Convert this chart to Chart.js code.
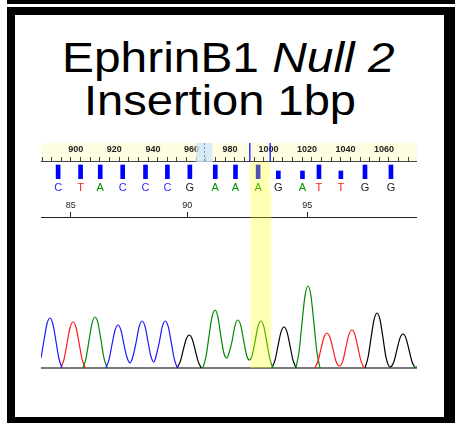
<!DOCTYPE html>
<html><head><meta charset="utf-8">
<script src="https://cdn.jsdelivr.net/npm/chart.js@4.4.1/dist/chart.umd.min.js"></script>
<style>
html,body{margin:0;padding:0;background:#fff;}
body{width:455px;height:423px;position:relative;overflow:hidden;font-family:"Liberation Sans",Arial,sans-serif;}
#topband{position:absolute;left:7px;top:0;width:448px;height:4px;background:#000;}
#frame{position:absolute;left:7px;top:7px;width:448px;height:416px;box-sizing:border-box;border-left:8px solid #000;border-top:8px solid #000;border-right:11px solid #000;border-bottom:6px solid #000;}
.t{position:absolute;font-size:42px;line-height:42px;white-space:nowrap;transform:scaleX(1.12);transform-origin:0 0;color:#000;}
canvas{position:absolute;}
</style></head><body>
<div id="topband"></div><div id="frame"></div>
<div class="t" style="left:62px;top:37px;transform:scaleX(1.14)">EphrinB1 <i>Null 2</i></div>
<div class="t" style="left:84px;top:80px">Insertion 1bp</div>
<canvas id="c1" width="376" height="52" style="left:41px;top:143px"></canvas>
<canvas id="c2" width="376" height="177" style="left:41px;top:195px"></canvas>
<script>
// ---- data ----
const scanMin = 884.5, scanMax = 1074.5;
const rulerLabels = [900, 920, 940, 960, 980, 1000, 1020, 1040, 1060];
const baseLetters = ['C','T','A','C','C','C','G','A','A','A','G','A','T','T','G','G'];
const basePositions = [887.4, 899.5, 910.1, 922.2, 934.5, 946.3, 958.4, 972.1, 983.0, 995.2, 1006.1, 1019.1, 1028.0, 1039.8, 1052.8, 1066.8];
const baseQuality = [35,35,35,35,35,35,35,35,35,35,20,20,35,20,35,35];
const firstBaseNumber = 84;
const baseNumberTicks = [85, 90, 95];
const selectionRange = [990.3, 1000.9];
const cursorBox = [962.3, 970.9];
const cursorScan = 966.4;

const traceC = [
  [[884.5,100],[886.0,275],[887.5,440],[889.0,500],[890.5,440],[892.0,275],[893.5,100],[895.1,0]],
  [[917.3,0],[918.9,86],[920.4,237],[921.9,378],[923.4,430],[924.9,378],[926.4,237],[927.9,110],[929.5,50],[931.0,120],[932.6,260],[934.1,414],[935.6,470],[937.1,414],[938.6,260],[940.0,120],[941.5,60],[942.8,130],[944.3,260],[945.8,414],[947.3,470],[948.8,414],[950.3,259],[951.8,94],[953.4,0]]
];
const traceT = [
  [[894.6,0],[896.2,92],[897.7,253],[899.2,405],[900.7,460],[902.2,405],[903.7,253],[905.2,92],[906.8,0]],
  [[1022.9,0],[1024.5,70],[1026.0,193],[1027.5,308],[1029.0,350],[1030.5,308],[1032.0,193],[1033.5,70],[1035.3,20],[1037.1,76],[1038.6,209],[1040.1,334],[1041.6,380],[1043.1,334],[1044.6,209],[1046.1,76],[1047.7,0]]
];
const traceA = [
  [[905.7,0],[907.3,102],[908.8,281],[910.3,449],[911.8,510],[913.3,449],[914.8,281],[916.3,102],[917.9,0]],
  [[966.3,0],[967.9,116],[969.4,319],[970.9,510],[972.4,580],[973.9,510],[975.4,319],[976.9,150],[978.3,100],[979.5,150],[981.0,264],[982.5,422],[984.0,480],[985.5,422],[987.0,264],[988.5,120],[989.8,80],[991.1,120],[992.6,259],[994.1,414],[995.6,470],[997.1,414],[998.6,259],[1000.1,94],[1001.7,0]],
  [[1013.3,0],[1014.9,164],[1016.4,451],[1017.9,722],[1019.4,820],[1020.9,722],[1022.4,451],[1023.9,164],[1025.5,0]],
  [[1073.0,0],[1074.5,15]]
];
const traceG = [
  [[953.3,0],[954.9,66],[956.4,182],[957.9,290],[959.4,330],[960.9,290],[962.4,182],[963.9,66],[965.5,0]],
  [[1001.2,0],[1002.8,82],[1004.3,226],[1005.8,361],[1007.3,410],[1008.8,361],[1010.3,226],[1011.8,82],[1013.4,0]],
  [[1048.2,0],[1049.8,110],[1051.3,303],[1052.8,484],[1054.3,550],[1055.8,484],[1057.3,303],[1058.8,110],[1060.9,10],[1062.9,68],[1064.4,187],[1065.9,299],[1067.4,340],[1068.9,299],[1070.4,187],[1071.9,68],[1073.5,0]]
];

// ---- styles ----
const letterColors = {A:'#009000', C:'#2a2aff', G:'#222222', T:'#ff2020'};
const bandColor = 'rgba(255,255,15,0.31)';
const FONT = '"Liberation Sans", Arial, sans-serif';

function segs(list){
  const out = [];
  list.forEach((s, i) => {
    if (i > 0) out.push({x: s[0][0] - 0.01, y: null});
    s.forEach(p => out.push({x: p[0], y: p[1]}));
  });
  return out;
}

const topPlugin = {
  id: 'topdeco',
  beforeDraw(chart){
    const c = chart.ctx, r = chart.scales.ruler, a = chart.chartArea;
    c.save(); c.fillStyle = '#fdfde2';
    c.fillRect(a.left, r.top, a.right - a.left, r.bottom - r.top);
    c.restore();
  },
  afterDatasetsDraw(chart){
    const c = chart.ctx, r = chart.scales.ruler, a = chart.chartArea;
    const x0 = r.getPixelForValue(selectionRange[0]), x1 = r.getPixelForValue(selectionRange[1]);
    c.save();
    c.fillStyle = bandColor;
    c.fillRect(x0, a.top + 1, x1 - x0, chart.height - a.top);
    const b0 = r.getPixelForValue(cursorBox[0]), b1 = r.getPixelForValue(cursorBox[1]);
    c.fillStyle = 'rgba(205,228,248,0.75)';
    c.fillRect(b0, r.top, b1 - b0, r.bottom - r.top + 1);
    c.strokeStyle = '#5a8ee8'; c.lineWidth = 1; c.setLineDash([2,2]);
    const cx = Math.round(r.getPixelForValue(cursorScan)) + 0.5;
    c.beginPath(); c.moveTo(cx, r.top); c.lineTo(cx, r.bottom); c.stroke();
    c.setLineDash([]);
    c.strokeStyle = '#3030ff'; c.lineWidth = 1.5;
    [x0, x1].forEach(x => { c.beginPath(); c.moveTo(x, r.top); c.lineTo(x, r.bottom + 1); c.stroke(); });
    c.restore();
  }
};

new Chart(document.getElementById('c1'), {
  type: 'bar',
  data: { datasets: [{
    data: basePositions.map((x, i) => ({x: x, y: baseQuality[i]})),
    backgroundColor: '#0000ff', barThickness: 4, xAxisID: 'letters', yAxisID: 'q'
  }]},
  options: {
    responsive: false, animation: false, events: [],
    layout: {padding: 0},
    plugins: {legend: {display: false}, tooltip: {enabled: false}},
    scales: {
      ruler: {
        type: 'linear', position: 'top', min: scanMin, max: scanMax,
        afterBuildTicks: s => { const t = []; for (let v = 885; v <= 1070; v += 5) t.push({value: v}); s.ticks = t; },
        afterFit: s => { s.height = 18; },
        ticks: {autoSkip: false, maxRotation: 0, padding: 2, color: '#222', font: {size: 9, family: FONT, weight: 'bold'},
          callback: v => rulerLabels.includes(v) ? String(v) : ''},
        grid: {drawOnChartArea: false, tickLength: 4, color: '#444'},
        border: {display: true, color: '#444', width: 1}
      },
      letters: {
        type: 'linear', position: 'bottom', min: scanMin, max: scanMax,
        afterBuildTicks: s => { s.ticks = basePositions.map(v => ({value: v})); },
        afterFit: s => { s.height = 16; },
        ticks: {autoSkip: false, maxRotation: 0, padding: 2, font: {size: 11, family: FONT},
          color: ctx => letterColors[baseLetters[ctx.index]],
          callback: (v, i) => baseLetters[i]},
        grid: {display: false, drawTicks: false}, border: {display: false}
      },
      q: {type: 'linear', display: false, min: 0, max: 45}
    }
  },
  plugins: [topPlugin]
});

const bandPlugin = {
  id: 'band',
  afterDatasetsDraw(chart){
    const c = chart.ctx, x = chart.scales.x, a = chart.chartArea;
    const x0 = x.getPixelForValue(selectionRange[0]), x1 = x.getPixelForValue(selectionRange[1]);
    c.save(); c.fillStyle = bandColor;
    c.fillRect(x0, 0, x1 - x0, a.bottom);
    c.restore();
  }
};

const mk = (list, color) => ({data: segs(list), borderColor: color, borderWidth: 1.2, pointRadius: 0,
  cubicInterpolationMode: 'monotone', spanGaps: false, fill: false});

new Chart(document.getElementById('c2'), {
  type: 'line',
  data: { datasets: [mk(traceC, '#1a1aff'), mk(traceT, '#ff1a1a'), mk(traceA, '#008a00'), mk(traceG, '#000000')] },
  options: {
    responsive: false, animation: false, events: [],
    layout: {padding: 0},
    plugins: {legend: {display: false}, tooltip: {enabled: false}},
    scales: {
      x: {type: 'linear', position: 'bottom', min: scanMin, max: scanMax,
        ticks: {display: false}, grid: {display: false, drawTicks: false},
        border: {display: true, color: '#7a7a7a', width: 2},
        afterFit: s => { s.height = 4; }},
      bn: {type: 'linear', position: 'top', min: scanMin, max: scanMax,
        afterBuildTicks: s => { s.ticks = baseNumberTicks.map(n => ({value: basePositions[n - firstBaseNumber]})); },
        afterFit: s => { s.height = 22; },
        ticks: {autoSkip: false, maxRotation: 0, padding: 1, color: '#222', font: {size: 9, family: FONT},
          callback: (v, i) => String(baseNumberTicks[i])},
        grid: {drawOnChartArea: false, tickLength: 5, color: '#222'},
        border: {display: true, color: '#222', width: 1}},
      y: {display: false, min: 0, max: 1510}
    }
  },
  plugins: [bandPlugin]
});
</script>
</body></html>
